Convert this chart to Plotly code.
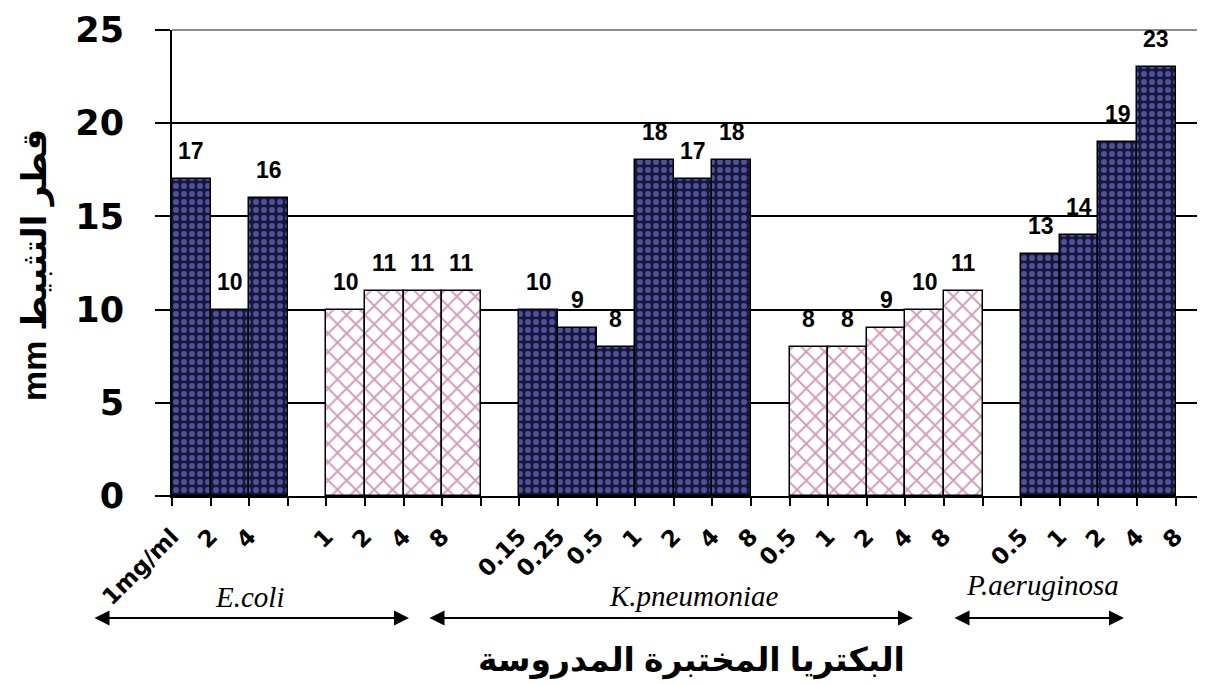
import plotly.graph_objects as go

# ---------------- data ----------------
ecoli_navy = [17, 10, 16]
ecoli_pink = [10, 11, 11, 11]
kpn_navy = [10, 9, 8, 18, 17, 18]
kpn_pink = [8, 8, 9, 10, 11]
pae_navy = [13, 14, 19, 23]

# labels sitting on the 27 category boundaries (as in the source chart)
tick_labels = ["1mg/ml", "2", "4", "", "1", "2", "4", "8", "",
               "0.15", "0.25", "0.5", "1", "2", "4", "8",
               "0.5", "1", "2", "4", "8", "",
               "0.5", "1", "2", "4", "8"]

y_ticks = [0, 5, 10, 15, 20, 25]

species = ["E.coli", "K.pneumoniae", "P.aeruginosa"]
x_title = "البكتريا المختبرة المدروسة"
y_title = "mm قطر التثبيط"

# ---------------- styles ----------------
NAVY = dict(color="#16163f", line=dict(color="black", width=1.5),
            pattern=dict(shape=".", bgcolor="#16163f", fgcolor="#8c8cf2",
                         size=8, solidity=0.42))
PINK = dict(color="white", line=dict(color="black", width=1.5),
            pattern=dict(shape="x", bgcolor="white", fgcolor="#a8387a",
                         size=13, solidity=0.28))

blocks = [(ecoli_navy, NAVY), (ecoli_pink, PINK), (kpn_navy, NAVY),
          (kpn_pink, PINK), (pae_navy, NAVY)]

fig = go.Figure()
annotations = []
slot = 0
for vals, style in blocks:
    xs = [slot + i + 0.5 for i in range(len(vals))]
    fig.add_trace(go.Bar(x=xs, y=vals, width=1, marker=style,
                         showlegend=False, hoverinfo="skip"))
    for x, v in zip(xs, vals):
        annotations.append(dict(x=x, y=v, xref="x", yref="y", text=str(v),
                                showarrow=False, yanchor="middle", yshift=28,
                                font=dict(family="Liberation Sans", size=23,
                                          color="black", weight="bold")))
    slot += len(vals) + 1

# species labels and arrows (paper coordinates)
sp_pos = [(0.0755, -0.2167), (0.5053, -0.2145), (0.843, -0.19)]
for name, (px, py) in zip(species, sp_pos):
    annotations.append(dict(x=px, y=py, xref="paper", yref="paper", text=name,
                            showarrow=False, xanchor="center", yanchor="middle",
                            font=dict(family="Liberation Serif", size=29,
                                      color="black", style="italic")))

arrows = [(0.2294, -316), (0.7173, -485), (0.9216, -171)]
for hx, length in arrows:
    annotations.append(dict(x=hx, y=-0.2618, xref="paper", yref="paper",
                            ax=length, ay=0, text="", showarrow=True,
                            arrowhead=2, startarrowhead=2, arrowside="end+start",
                            arrowsize=1.5, startarrowsize=1.5, arrowwidth=2,
                            arrowcolor="black"))

annotations.append(dict(x=0.503, y=-0.352, xref="paper", yref="paper",
                        text=x_title, showarrow=False,
                        xanchor="center", yanchor="middle",
                        font=dict(family="Liberation Sans, DejaVu Sans", size=33,
                                  color="black", weight="bold")))
annotations.append(dict(x=-0.132, y=0.495, xref="paper", yref="paper",
                        text=y_title, showarrow=False, textangle=-90,
                        xanchor="center", yanchor="middle",
                        font=dict(family="Liberation Sans, DejaVu Sans", size=34,
                                  color="black", weight="bold")))

# page body has an 8px margin, so the figure is sized to fit the window
fig.update_layout(
    width=1197, height=676,
    margin=dict(l=164, r=0, t=22, b=188),
    plot_bgcolor="white", paper_bgcolor="white",
    bargap=0, barmode="overlay",
    annotations=annotations,
    # top gridline (lighter grey in the source), drawn unclipped at the plot top
    shapes=[dict(type="line", xref="paper", yref="paper", x0=0, x1=1,
                 y0=1, y1=1, line=dict(color="#8c8c8c", width=2),
                 layer="above")],
)
fig.update_xaxes(range=[0, 26.76], tickmode="array",
                 tickvals=list(range(len(tick_labels))), ticktext=tick_labels,
                 tickangle=-45, ticks="outside", ticklen=8, tickwidth=2,
                 tickcolor="black", showline=True, linecolor="black",
                 linewidth=2, showgrid=False, zeroline=False,
                 ticklabelstandoff=8,
                 tickfont=dict(family="DejaVu Sans", size=23, color="black",
                               weight="bold"))
fig.update_yaxes(range=[y_ticks[0], y_ticks[-1]], tickmode="array", tickvals=y_ticks,
                 ticks="outside", ticklen=15, tickwidth=2, tickcolor="black",
                 showline=True, linecolor="black", linewidth=2,
                 showgrid=True, gridcolor="black", gridwidth=1.5, zeroline=False,
                 ticklabelstandoff=24,
                 tickfont=dict(family="DejaVu Sans", size=35, color="black",
                               weight="bold"))

fig.write_html("out.html")
